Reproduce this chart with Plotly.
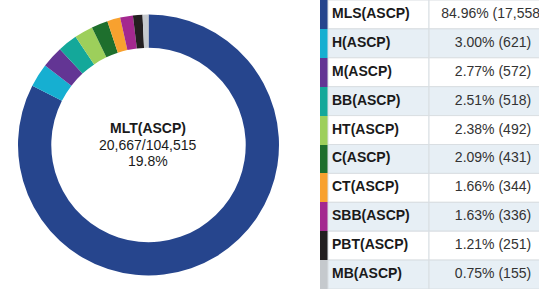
import plotly.graph_objects as go

categories = ["MLS(ASCP)", "H(ASCP)", "M(ASCP)", "BB(ASCP)", "HT(ASCP)",
              "C(ASCP)", "CT(ASCP)", "SBB(ASCP)", "PBT(ASCP)", "MB(ASCP)"]
counts = [17558, 621, 572, 518, 492, 431, 344, 336, 251, 155]
percents = [84.96, 3.00, 2.77, 2.51, 2.38, 2.09, 1.66, 1.63, 1.21, 0.75]
colors = ["#26458d", "#16afd1", "#633594", "#14a89a", "#9dcf5b",
          "#1e6f2d", "#f8a12f", "#a4288f", "#231f20", "#c5c9cd"]
center_title = "MLT(ASCP)"
center_count = "20,667/104,515"
center_pct = "19.8%"

FONT = "Liberation Sans, Arial, Helvetica, sans-serif"
BORDER = "#d9dee2"

CX, CY, R = 148.5, 144.0, 130.5  # pixel centre (from bottom) and half-size of pie box
fig = go.Figure()
fig.add_trace(go.Pie(
    labels=categories, values=counts, marker=dict(colors=colors, line=dict(width=0)),
    hole=0.745, sort=False, direction="clockwise", rotation=0,
    textinfo="none", hoverinfo="skip", showlegend=False,
    domain=dict(x=[(CX - R) / 539, (CX + R) / 539], y=[(CY - R) / 289, (CY + R) / 289]),
))

n = len(categories)
row_fill = ["#ffffff" if i % 2 == 0 else "#e7eff5" for i in range(n)]
value_text = [f"{p:.2f}% ({c:,})" for p, c in zip(percents, counts)]
label_text = [f"<b>{c}</b>" for c in categories]

# table-like grid drawn with bars on a hidden categorical axis
COLOR_W, LABEL_W, VALUE_W = 8, 101, 130
common = dict(y=categories, orientation="h", width=1, xaxis="x", yaxis="y",
              hoverinfo="skip", showlegend=False)
fig.add_trace(go.Bar(x=[COLOR_W] * n, base=[0] * n,
                     marker=dict(color=colors, line=dict(width=0)), **common))
fig.add_trace(go.Bar(x=[LABEL_W] * n, base=[COLOR_W] * n,
                     marker=dict(color=row_fill, line=dict(color=BORDER, width=1)), **common))
fig.add_trace(go.Bar(x=[VALUE_W] * n, base=[COLOR_W + LABEL_W] * n,
                     marker=dict(color=row_fill, line=dict(color=BORDER, width=1)), **common))
fig.add_trace(go.Scatter(x=[COLOR_W + 4] * n, y=categories, mode="text", text=label_text,
                         textposition="middle right",
                         textfont=dict(family=FONT, size=14, color="#1a1a1a"),
                         hoverinfo="skip", showlegend=False))
fig.add_trace(go.Scatter(x=[173] * n, y=categories, mode="text", text=value_text,
                         textposition="middle center",
                         textfont=dict(family=FONT, size=14, color="#333333"),
                         hoverinfo="skip", showlegend=False))

for txt, yy in [(f"<b>{center_title}</b>", 0.557), (center_count, 0.498), (center_pct, 0.443)]:
    fig.add_annotation(x=CX / 539, y=yy, xref="paper", yref="paper", text=txt,
                       showarrow=False, font=dict(family=FONT, size=14, color="#1a1a1a"),
                       xanchor="center", yanchor="middle")

fig.update_layout(
    width=539, height=289, margin=dict(l=0, r=0, t=0, b=0),
    paper_bgcolor="white", plot_bgcolor="rgba(0,0,0,0)", font=dict(family=FONT),
    barmode="overlay", bargap=0,
    xaxis=dict(domain=[320 / 539, 1], range=[0, 219], visible=False, fixedrange=True),
    yaxis=dict(domain=[0, 1], range=[n - 0.5, -0.5], visible=False, fixedrange=True,
               categoryorder="array", categoryarray=categories),
)

fig.write_html("out.html", config={"displayModeBar": False, "staticPlot": True},
               post_script="document.body.style.margin='0';document.body.style.overflow='hidden';")
